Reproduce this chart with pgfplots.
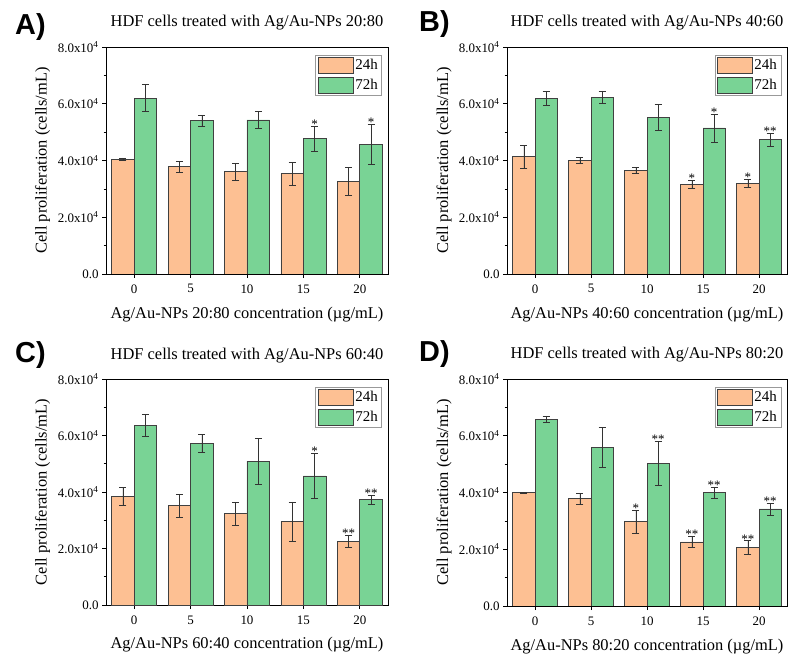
\documentclass[border=0pt]{standalone}
\usepackage{fontspec}
\setmainfont{Liberation Serif}
\newfontfamily\panelfont{Liberation Sans}
\usepackage{pgfplots}
\pgfplotsset{compat=1.18}

\definecolor{orangebar}{HTML}{FDC093}
\definecolor{greenbar}{HTML}{79D395}
\definecolor{edge}{HTML}{404040}

\pgfplotsset{
  panel/.style={
    scale only axis,
    ymin=0, ymax=8, xmin=-0.5, xmax=4.5,
    ytick={0,2,4,6,8},
    yticklabels={0.0, 2.0x10\textsuperscript{4}, 4.0x10\textsuperscript{4}, 6.0x10\textsuperscript{4}, 8.0x10\textsuperscript{4}},
    minor y tick num=1,
    xtick={0,1,2,3,4}, xticklabels={0,5,10,15,20},
    tick align=outside, xtick pos=left, ytick pos=left,
    major tick length=4bp, minor tick length=2.5bp,
    every tick/.style={black, line width=0.6bp},
    axis line style={black, line width=0.8bp},
    ticklabel style={font=\fontsize{13}{15}\selectfont},
    xticklabel style={yshift=-3bp},
    label style={font=\fontsize{16.5}{18}\selectfont},
    title style={font=\fontsize{16.5}{18}\selectfont, at={(axis description cs:0.5,1.062)}, anchor=base},
    xlabel style={at={(axis description cs:0.5,-0.194)}, anchor=base},
    ylabel style={at={(axis description cs:-0.225,0.5)}, anchor=center},
    ylabel={Cell proliferation (cells/mL)},
    ybar, bar width=0.4,
    legend style={at={(axis description cs:0.979,0.965)}, anchor=north east,
      draw=gray!80, line width=0.6bp, inner xsep=2bp, inner ysep=2bp,
      font=\fontsize{15}{16}\selectfont, row sep=3bp,
      /tikz/every even column/.style={column sep=1bp}},
    legend cell align=left,
  },
  errstyle/.style={error bars/.cd, y dir=both, y explicit,
      error bar style={line width=0.5bp, black!80},
      error mark options={rotate=90, line width=0.5bp, black!80, mark size=3.5bp}},
  b24/.style={fill=orangebar, draw=edge, line width=0.6bp, bar shift=-0.2, errstyle,
      /pgfplots/legend image code/.code={\draw[fill=orangebar, draw=edge, line width=0.6bp] (0bp,-8bp) rectangle (35bp,8bp);}},
  b72/.style={fill=greenbar, draw=edge, line width=0.6bp, bar shift=0.2, errstyle,
      /pgfplots/legend image code/.code={\draw[fill=greenbar, draw=edge, line width=0.6bp] (0bp,-8bp) rectangle (35bp,8bp);}},
  stars/.style={draw=none, fill=none, forget plot, bar shift=0,
      nodes near coords, point meta=explicit symbolic,
      every node near coord/.style={anchor=south, inner sep=0pt, yshift=-2.5bp,
        font=\fontsize{13}{13}\selectfont, black}},
}

\begin{document}
\begin{tikzpicture}
\useasboundingbox (0,0) rectangle (788bp,657bp);

\node[anchor=base west, font=\panelfont\bfseries\fontsize{29}{30}\selectfont, inner sep=0pt] at (15bp,622bp) {A)};
\node[anchor=base west, font=\panelfont\bfseries\fontsize{29}{30}\selectfont, inner sep=0pt] at (419bp,625bp) {B)};
\node[anchor=base west, font=\panelfont\bfseries\fontsize{29}{30}\selectfont, inner sep=0pt] at (15bp,294bp) {C)};
\node[anchor=base west, font=\panelfont\bfseries\fontsize{29}{30}\selectfont, inner sep=0pt] at (419bp,295bp) {D)};

% ---------------- A
\begin{axis}[panel, at={(106bp,383bp)}, anchor=south west, width=282bp, height=227bp,
  title={HDF cells treated with Ag/Au-NPs 20:80},
  xlabel={Ag/Au-NPs 20:80 concentration (µg/mL)}]
\addplot[b24] coordinates {(0,4.05) +- (0,0.04) (1,3.78) +- (0,0.2) (2,3.61) +- (0,0.3) (3,3.54) +- (0,0.4) (4,3.27) +- (0,0.5)};
\addplot[b72] coordinates {(0,6.20) +- (0,0.47) (1,5.41) +- (0,0.19) (2,5.43) +- (0,0.3) (3,4.77) +- (0,0.43) (4,4.57) +- (0,0.7)};
\addplot[stars] table[meta=s, row sep=\\] {x y s\\ 3.2 5.20 *\\ 4.2 5.27 *\\};
\legend{24h,72h}
\end{axis}

% ---------------- B
\begin{axis}[panel, at={(507bp,383bp)}, anchor=south west, width=280bp, height=227bp,
  title={HDF cells treated with Ag/Au-NPs 40:60},
  xlabel={Ag/Au-NPs 40:60 concentration (µg/mL)}]
\addplot[b24] coordinates {(0,4.14) +- (0,0.4) (1,4.01) +- (0,0.1) (2,3.65) +- (0,0.1) (3,3.16) +- (0,0.14) (4,3.19) +- (0,0.15)};
\addplot[b72] coordinates {(0,6.20) +- (0,0.24) (1,6.23) +- (0,0.22) (2,5.52) +- (0,0.45) (3,5.15) +- (0,0.49) (4,4.73) +- (0,0.22)};
\addplot[stars] table[meta=s, row sep=\\] {x y s\\ 2.8 3.30 *\\ 3.8 3.34 *\\ 3.2 5.64 *\\ 4.2 4.95 **\\};
\legend{24h,72h}
\end{axis}

% ---------------- C
\begin{axis}[panel, at={(106bp,52bp)}, anchor=south west, width=282bp, height=226bp,
  title={HDF cells treated with Ag/Au-NPs 60:40},
  xlabel={Ag/Au-NPs 60:40 concentration (µg/mL)}]
\addplot[b24] coordinates {(0,3.84) +- (0,0.32) (1,3.52) +- (0,0.4) (2,3.24) +- (0,0.4) (3,2.95) +- (0,0.7) (4,2.26) +- (0,0.22)};
\addplot[b72] coordinates {(0,6.36) +- (0,0.4) (1,5.73) +- (0,0.31) (2,5.09) +- (0,0.8) (3,4.57) +- (0,0.8) (4,3.73) +- (0,0.16)};
\addplot[stars] table[meta=s, row sep=\\] {x y s\\ 3.8 2.48 **\\ 3.2 5.37 *\\ 4.2 3.89 **\\};
\legend{24h,72h}
\end{axis}

% ---------------- D
\begin{axis}[panel, at={(507bp,51bp)}, anchor=south west, width=280bp, height=227bp,
  title={HDF cells treated with Ag/Au-NPs 80:20},
  xlabel={Ag/Au-NPs 80:20 concentration (µg/mL)}]
\addplot[b24] coordinates {(0,3.99) +- (0,0.02) (1,3.78) +- (0,0.2) (2,2.98) +- (0,0.4) (3,2.26) +- (0,0.2) (4,2.06) +- (0,0.24)};
\addplot[b72] coordinates {(0,6.58) +- (0,0.12) (1,5.60) +- (0,0.7) (2,5.03) +- (0,0.78) (3,3.99) +- (0,0.18) (4,3.42) +- (0,0.21)};
\addplot[stars] table[meta=s, row sep=\\] {x y s\\ 1.8 3.38 *\\ 2.8 2.46 **\\ 3.8 2.30 **\\ 2.2 5.81 **\\ 3.2 4.17 **\\ 4.2 3.63 **\\};
\legend{24h,72h}
\end{axis}
\end{tikzpicture}
\end{document}
